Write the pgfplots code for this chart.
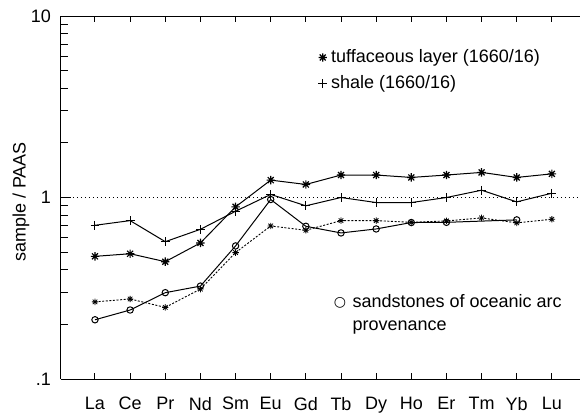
\documentclass[border=0pt]{standalone}
\usepackage{fontspec}
\setmainfont{Liberation Sans}
\newfontfamily\dejavu{DejaVu Sans}
\usepackage{pgfplots}
\pgfplotsset{compat=1.18}

% eight-armed asterisk, as in the original figure
\pgfdeclareplotmark{ast8}{%
  \pgfpathmoveto{\pgfpoint{-\pgfplotmarksize}{0pt}}\pgfpathlineto{\pgfpoint{\pgfplotmarksize}{0pt}}%
  \pgfpathmoveto{\pgfpoint{0pt}{-\pgfplotmarksize}}\pgfpathlineto{\pgfpoint{0pt}{\pgfplotmarksize}}%
  \pgfpathmoveto{\pgfpoint{-.707\pgfplotmarksize}{-.707\pgfplotmarksize}}\pgfpathlineto{\pgfpoint{.707\pgfplotmarksize}{.707\pgfplotmarksize}}%
  \pgfpathmoveto{\pgfpoint{-.707\pgfplotmarksize}{.707\pgfplotmarksize}}\pgfpathlineto{\pgfpoint{.707\pgfplotmarksize}{-.707\pgfplotmarksize}}%
  \pgfusepathqstroke}

\begin{document}
\begin{tikzpicture}[font=\fontsize{9}{10.8}\selectfont]
\begin{axis}[
  scale only axis, width=259.5pt, height=181.5pt,
  xmin=-0.967, xmax=13.8, ymode=log, ymin=0.1, ymax=10,
  axis x line=box, axis y line=left, axis line style={-, line width=0.5pt},
  xtick={0,...,13}, xticklabels={La,Ce,Pr,Nd,Sm,Eu,Gd,Tb,Dy,Ho,Er,Tm,Yb,Lu},
  xtick pos=both, ytick pos=left,
  ytick={0.1,10}, yticklabels={.1,10},
  extra y ticks={1}, extra y tick labels={1},
  extra y tick style={major tick length=5pt},
  minor ytick={0.2,0.3,0.4,0.5,0.6,0.7,0.8,0.9,2,3,4,5,6,7,8,9},
  tick align=inside, major tick length=3pt, minor tick length=3.5pt,
  tick style={black, line width=0.5pt},
  xticklabel style={yshift=-5.5pt},
  yticklabel style={xshift=-1.5pt},
  /pgf/number format/assume math mode=true,
  ylabel={sample / PAAS},
  ylabel style={at={(axis description cs:-0.077,0.488)}, anchor=center},
  legend style={draw=none, fill=none, at={(0.495,0.92)}, anchor=north west,
    inner sep=0pt, row sep=1pt, font=\fontsize{9}{10.8}\selectfont},
  legend cell align=left,
  legend image code/.code={\draw[#1, only marks] plot coordinates {(0.13cm,0cm)};},
]
% tuffaceous layer
\addplot[black, line width=0.5pt, mark=ast8, mark size=2.1pt, mark options={solid, line width=0.6pt}]
  coordinates {(0,0.474) (1,0.49) (2,0.443) (3,0.562) (4,0.888) (5,1.247) (6,1.18)
               (7,1.33) (8,1.33) (9,1.29) (10,1.33) (11,1.375) (12,1.29) (13,1.35)};
\addlegendentry{tuffaceous layer (1660/16)}
% shale
\addplot[black, line width=0.5pt, mark=+, mark size=2.2pt, mark options={solid, line width=0.5pt}]
  coordinates {(0,0.703) (1,0.746) (2,0.571) (3,0.668) (4,0.84) (5,1.04) (6,0.90)
               (7,1.0) (8,0.938) (9,0.938) (10,1.0) (11,1.097) (12,0.946) (13,1.056)};
\addlegendentry{shale (1660/16)}
% sandstones of oceanic arc provenance
\addplot[black, line width=0.5pt, mark=o, mark size=1.6pt, mark options={solid, line width=0.5pt}]
  coordinates {(0,0.212) (1,0.24) (2,0.299) (3,0.325) (4,0.541) (5,0.975) (6,0.694)
               (7,0.638) (8,0.671) (9,0.728) (10,0.73) (12,0.753)};
% dotted series
\addplot[black, line width=0.45pt, dash pattern=on 1pt off 0.8pt, mark=ast8, mark size=1.6pt, mark options={solid, line width=0.4pt}]
  coordinates {(0,0.266) (1,0.276) (2,0.248) (3,0.313) (4,0.497) (5,0.697) (6,0.66)
               (7,0.746) (8,0.746) (9,0.73) (10,0.743) (11,0.772) (12,0.725) (13,0.759)};
% reference line at 1
\addplot[black, line width=0.5pt, dash pattern=on 0.6pt off 1.4pt, forget plot]
  coordinates {(-0.967,1) (13.8,1)};
\node at (axis cs:6.97,0.263) {\dejavu\fontsize{7}{8}\selectfont ○};
\node[anchor=west, align=left, inner sep=0pt, font=\fontsize{9}{11.5}\selectfont]
  at (axis cs:7.32,0.227) {sandstones of oceanic arc\\provenance};
\coordinate (sw) at (rel axis cs:0,0);
\end{axis}
\pgfresetboundingbox
\path ([shift={(-30.5pt,-17.5pt)}]sw) rectangle ([shift={(259.5pt,189.5pt)}]sw);
\end{tikzpicture}
\end{document}
